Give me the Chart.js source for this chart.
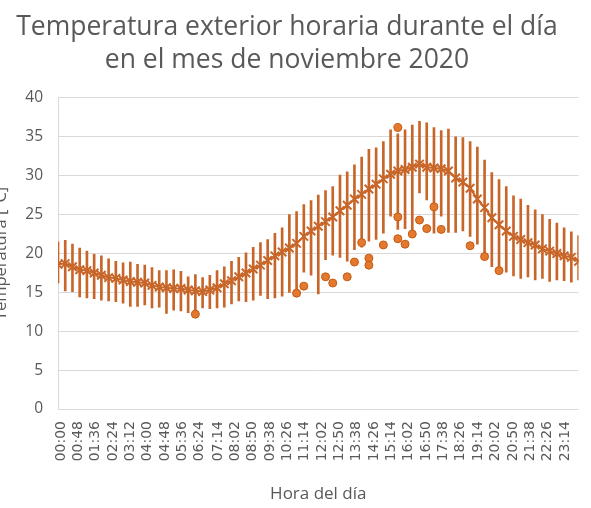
<!DOCTYPE html>
<html lang="es">
<head>
<meta charset="utf-8">
<title>Temperatura exterior horaria</title>
<script src="https://cdn.jsdelivr.net/npm/chart.js@4/dist/chart.umd.min.js"></script>
<style>
  html, body { margin: 0; padding: 0; background: #ffffff; }
  #wrap { width: 591px; height: 508px; }
</style>
</head>
<body>
<div id="wrap"><canvas id="grafico" width="591" height="508"></canvas></div>
<script>
// Hora de cada registro (cada 20 minutos)
const horas = [
  "00:00","00:20","00:40","01:00","01:20","01:40","02:00","02:20","02:40",
  "03:00","03:20","03:40","04:00","04:20","04:40","05:00","05:20","05:40",
  "06:00","06:20","06:40","07:00","07:20","07:40","08:00","08:20","08:40",
  "09:00","09:20","09:40","10:00","10:20","10:40","11:00","11:20","11:40",
  "12:00","12:20","12:40","13:00","13:20","13:40","14:00","14:20","14:40",
  "15:00","15:20","15:40","16:00","16:20","16:40","17:00","17:20","17:40",
  "18:00","18:20","18:40","19:00","19:20","19:40","20:00","20:20","20:40",
  "21:00","21:20","21:40","22:00","22:20","22:40","23:00","23:20","23:40",
  "24:00"
];

// Temperatura media del mes a cada hora [°C]
const tempMedia = [
  18.6, 18.7, 18.3, 17.9, 17.8, 17.5, 17.2, 16.9, 16.8, 16.6,
  16.4, 16.3, 16.2, 15.9, 15.7, 15.6, 15.5, 15.5, 15.3, 15.2,
  15.1, 15.3, 15.6, 16.1, 16.5, 17.0, 17.5, 18.0, 18.5, 19.1,
  19.7, 20.2, 20.7, 21.3, 22.2, 22.9, 23.5, 24.1, 24.7, 25.5,
  26.2, 27.0, 27.6, 28.3, 28.9, 29.6, 30.2, 30.6, 30.8, 31.1,
  31.5, 31.1, 31.0, 30.9, 30.6, 29.7, 29.2, 28.4, 27.0, 25.9,
  24.6, 23.7, 22.9, 22.2, 21.8, 21.4, 21.1, 20.6, 20.3, 20.0,
  19.7, 19.5, 19.0
];

// Máxima del mes a cada hora [°C]
const tempMax = [
  21.5, 21.7, 21.2, 20.7, 20.3, 19.9, 19.7, 19.3, 19.0, 18.8,
  18.9, 18.6, 18.5, 18.2, 17.8, 17.8, 17.9, 17.7, 17.0, 17.3,
  16.9, 17.2, 17.8, 18.3, 19.0, 19.5, 20.1, 20.8, 21.4, 21.8,
  22.6, 23.3, 25.0, 25.4, 26.3, 26.8, 27.5, 28.1, 28.6, 30.1,
  30.5, 31.4, 32.4, 33.4, 33.6, 34.4, 35.9, 35.4, 35.9, 36.5,
  37.0, 36.8, 36.2, 35.8, 36.0, 35.0, 34.9, 34.4, 33.7, 32.0,
  30.4, 29.5, 28.6, 27.4, 27.0, 26.2, 25.6, 25.0, 24.4, 23.9,
  23.3, 22.8, 22.3
];

// Mínima del mes a cada hora [°C]
const tempMin = [
  16.2, 15.2, 15.1, 14.4, 14.3, 14.2, 14.0, 13.9, 13.8, 13.6,
  13.2, 13.2, 13.4, 13.0, 13.1, 12.3, 12.7, 12.6, 12.4, 12.6,
  13.0, 12.9, 13.0, 13.1, 13.5, 13.9, 13.8, 14.0, 14.6, 14.2,
  14.3, 14.5, 15.0, 15.1, 17.6, 17.2, 14.8, 19.2, 19.8, 19.5,
  19.0, 20.5, 20.8, 21.6, 21.8, 22.6, 24.8, 23.1, 23.2, 23.0,
  27.8, 26.9, 22.6, 24.8, 22.7, 22.7, 22.9, 22.2, 21.2, 19.6,
  18.3, 17.9, 17.6, 17.1, 16.8, 17.0, 16.6, 16.8, 16.4, 16.6,
  16.5, 16.3, 16.6
];

// Valores atípicos registrados
const puntosHora = [
  "06:20","11:00","11:20","12:20","12:40","13:20","13:40","14:00",
  "14:20","14:20","15:00","15:40","15:40","15:40","16:00","16:20",
  "16:40","17:00","17:20","17:40","19:00","19:40","20:20"
];
const puntosTemp = [
  12.2, 14.9, 15.8, 17.0, 16.2, 17.0, 18.9, 21.4,
  19.4, 18.5, 21.1, 36.2, 24.7, 21.9, 21.2, 22.5,
  24.3, 23.2, 26.0, 23.1, 21.0, 19.6, 17.8
];

// Etiquetas del eje horizontal
const etiquetasEje = [
  "00:00","00:48","01:36","02:24","03:12","04:00","04:48","05:36","06:24","07:14",
  "08:02","08:50","09:38","10:26","11:14","12:02","12:50","13:38","14:26","15:14",
  "16:02","16:50","17:38","18:26","19:14","20:02","20:50","21:38","22:26","23:14"
];

const tituloLineas = ["Temperatura exterior horaria durante el día", "en el mes de noviembre 2020"];

const aMinutos = h => { const p = h.split(':').map(Number); return p[0] * 60 + p[1]; };

const naranjaOscuro = '#C8662A';
const naranjaPunto = '#E2792F';
const gris = '#595959';

new Chart(document.getElementById('grafico'), {
  type: 'line',
  data: {
    datasets: [
      {
        type: 'bar',
        label: 'Rango',
        data: horas.map((h, i) => ({ x: aMinutos(h), y: [tempMin[i], tempMax[i]] })),
        backgroundColor: naranjaOscuro,
        borderWidth: 0,
        barThickness: 2,
        order: 3,
        clip: 0
      },
      {
        type: 'line',
        label: 'Media',
        data: horas.map((h, i) => ({ x: aMinutos(h), y: tempMedia[i] })),
        borderColor: naranjaOscuro,
        borderWidth: 2,
        tension: 0,
        pointStyle: 'crossRot',
        pointRadius: 6,
        pointBorderWidth: 2,
        pointBorderColor: naranjaOscuro,
        pointBackgroundColor: naranjaOscuro,
        order: 2,
        clip: 0
      },
      {
        type: 'line',
        label: 'Atípicos',
        showLine: false,
        data: puntosHora.map((h, i) => ({ x: aMinutos(h), y: puntosTemp[i] })),
        pointStyle: 'circle',
        pointRadius: 4,
        pointBackgroundColor: naranjaPunto,
        pointBorderColor: '#C55A11',
        pointBorderWidth: 1,
        order: 1,
        clip: 0
      }
    ]
  },
  options: {
    responsive: false,
    animation: false,
    events: [],
    layout: { padding: { left: -9, right: 8, top: 0, bottom: 0 } },
    plugins: {
      legend: { display: false },
      tooltip: { enabled: false },
      title: {
        display: true,
        text: tituloLineas,
        color: gris,
        font: { family: 'Open Sans', size: 26.5, weight: 'normal', lineHeight: 1.245 },
        padding: { top: 10.5, bottom: 21.5 }
      }
    },
    scales: {
      x: {
        type: 'linear',
        min: 0,
        max: 1440,
        offset: false,
        grid: { display: false, offset: false, drawTicks: false },
        border: { display: false },
        afterBuildTicks: ax => { ax.ticks = etiquetasEje.map(e => ({ value: aMinutos(e) })); },
        afterFit: ax => { ax.height = 99; },
        ticks: {
          autoSkip: false,
          minRotation: 90,
          maxRotation: 90,
          padding: 12,
          labelOffset: 3,
          color: gris,
          font: { family: 'DejaVu Sans', size: 14 },
          callback: (v, i) => etiquetasEje[i]
        },
        title: {
          display: true,
          text: 'Hora del día',
          color: gris,
          font: { family: 'Open Sans', size: 17 },
          padding: { top: 0, bottom: 3.8 }
        }
      },
      y: {
        min: 0,
        max: 40,
        ticks: { stepSize: 5, padding: 15, color: gris, font: { family: 'Open Sans', size: 15.5 } },
        grid: { color: '#D9D9D9', lineWidth: 1, drawTicks: false },
        border: { display: true, color: '#D9D9D9', width: 1 },
        afterFit: ax => { ax.width = 67; },
        title: {
          display: true,
          text: 'Temperatura [°C]',
          color: gris,
          font: { family: 'Open Sans', size: 16.5 },
          padding: { top: 0, bottom: 0 }
        }
      }
    }
  }
});
</script>
</body>
</html>
